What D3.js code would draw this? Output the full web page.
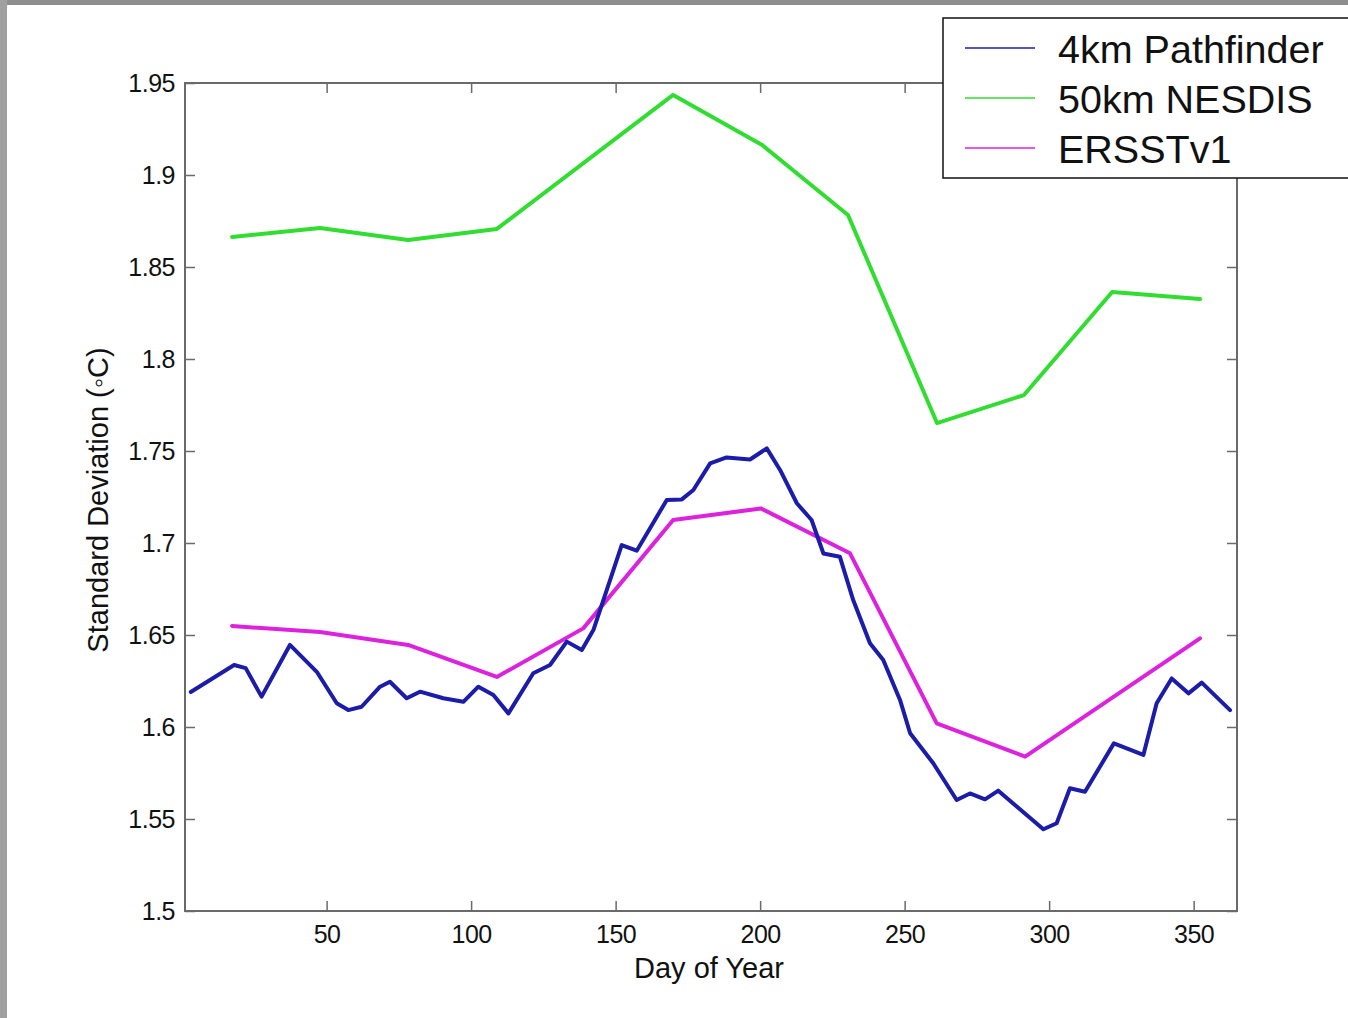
<!DOCTYPE html>
<html>
<head>
<meta charset="utf-8">
<script src="https://cdn.jsdelivr.net/npm/d3@7"></script>
<style>
  html, body { margin: 0; padding: 0; background: #fff; }
  svg { display: block; }
  text { font-family: "Liberation Sans", Arial, Helvetica, sans-serif; fill: #111; }
</style>
</head>
<body>
<div id="chart"></div>
<script>
// ---- data ----
var pathfinderDays = [3, 18, 22, 27.5, 37.3, 46.6, 53.5, 57.5, 62.1, 68.5, 71.9, 77.7, 82.3, 90.4, 97.3,
  102.5, 107.7, 112.9, 121.5, 127.3, 133.1, 138.3, 142.3, 148.1, 152.1, 157.3, 167.7, 172.9, 176.9,
  182.7, 188.4, 196.5, 202.3, 206.9, 212.7, 217.8, 221.9, 227.6, 232.2, 238, 242.6, 248.4, 251.9,
  259.9, 268, 272.6, 277.8, 282.4, 298, 302.6, 307.2, 312.4, 322.4, 332.6, 337.2, 342.4, 348.2, 352.8, 362.6];
var pathfinderValues = [1.619, 1.6337, 1.632, 1.6165, 1.6446, 1.630, 1.6129, 1.6092, 1.611, 1.6219, 1.6246,
  1.6156, 1.6192, 1.6156, 1.6137, 1.6219, 1.6174, 1.6074, 1.6292, 1.6337, 1.6464, 1.6418, 1.6527, 1.680,
  1.6989, 1.6958, 1.7234, 1.7237, 1.7288, 1.7433, 1.7465, 1.7454, 1.7514, 1.7397, 1.7216, 1.7125, 1.6943,
  1.6925, 1.669, 1.6455, 1.6364, 1.6147, 1.5966, 1.5803, 1.5603, 1.5639, 1.5607, 1.5654, 1.5444, 1.5477,
  1.5667, 1.5648, 1.5911, 1.5848, 1.6129, 1.6264, 1.6183, 1.6241, 1.6092];

var nesdisDays = [17.3, 47.7, 78.2, 108.9, 169.9, 200.7, 230.4, 261.2, 291.3, 321.8, 352.2];
var nesdisValues = [1.8663, 1.8712, 1.8647, 1.8707, 1.9435, 1.9163, 1.8783, 1.7652, 1.7804, 1.8364, 1.8326];

var ersstDays = [17.3, 47.7, 78.2, 108.9, 138.8, 169.9, 200.3, 231.1, 261.1, 291.7, 352.2];
var ersstValues = [1.6549, 1.6516, 1.6446, 1.6272, 1.6536, 1.7125, 1.7188, 1.6944, 1.602, 1.5839, 1.6482];

var xTicks = [50, 100, 150, 200, 250, 300, 350];
var yTicks = [1.5, 1.55, 1.6, 1.65, 1.7, 1.75, 1.8, 1.85, 1.9, 1.95];
var yTickLabels = ["1.5", "1.55", "1.6", "1.65", "1.7", "1.75", "1.8", "1.85", "1.9", "1.95"];

var seriesNames = ["4km Pathfinder", "50km NESDIS", "ERSSTv1"];
var seriesColors = ["#1c1caa", "#30dd30", "#dd22dd"];

// ---- layout ----
var W = 1348, H = 1018;
var margin = { top: 83, left: 185 },
    width = 1052,
    height = 828;

var svg = d3.select("#chart")
    .append("svg")
    .attr("width", W)
    .attr("height", H);

// gray slide border (top and left)
svg.append("rect").attr("x", 0).attr("y", 0).attr("width", W).attr("height", 5).attr("fill", "#8e8e8e");
svg.append("rect").attr("x", 0).attr("y", 0).attr("width", 7).attr("height", H).attr("fill", "#a0a0a0");

var g = svg.append("g")
    .attr("transform", "translate(" + margin.left + "," + margin.top + ")");

var x = d3.scaleLinear().domain([1, 365]).range([0, width]);
var y = d3.scaleLinear().domain([1.5, 1.95]).range([height, 0]);

// ---- axes (box with inward ticks on all four sides) ----
var axisColor = "#6a6a6a";

function styleAxis(sel) {
    sel.select(".domain").remove();
    sel.selectAll(".tick line").attr("stroke", axisColor).attr("stroke-width", 1.5);
    sel.selectAll(".tick text")
        .style("font-family", "'Liberation Sans', Arial, sans-serif")
        .style("font-size", "25px")
        .style("letter-spacing", "-0.5px")
        .attr("fill", "#000");
}

g.append("g")
    .attr("transform", "translate(0," + height + ")")
    .call(d3.axisBottom(x).tickValues(xTicks).tickSize(-10).tickPadding(14).tickFormat(d3.format("d")))
    .call(styleAxis);

g.append("g")
    .call(d3.axisTop(x).tickValues(xTicks).tickSize(-10).tickFormat(""))
    .call(styleAxis);

g.append("g")
    .call(d3.axisLeft(y).tickValues(yTicks).tickSize(-10).tickPadding(10)
        .tickFormat(function (d, i) { return yTickLabels[i]; }))
    .call(styleAxis);

g.append("g")
    .attr("transform", "translate(" + width + ",0)")
    .call(d3.axisRight(y).tickValues(yTicks).tickSize(-10).tickFormat(""))
    .call(styleAxis);

// frame
g.append("rect")
    .attr("x", 0).attr("y", 0)
    .attr("width", width).attr("height", height)
    .attr("fill", "none")
    .attr("stroke", axisColor)
    .attr("stroke-width", 2);

// ---- lines ----
var line = d3.line()
    .x(function (d) { return x(d[0]); })
    .y(function (d) { return y(d[1]); });

var series = [
    d3.zip(pathfinderDays, pathfinderValues),
    d3.zip(nesdisDays, nesdisValues),
    d3.zip(ersstDays, ersstValues)
];

// draw green, magenta, then blue on top
[1, 2, 0].forEach(function (i) {
    g.append("path")
        .datum(series[i])
        .attr("d", line)
        .attr("fill", "none")
        .attr("stroke", seriesColors[i])
        .attr("stroke-width", 4)
        .attr("stroke-linejoin", "round")
        .attr("stroke-linecap", "round");
});

// ---- axis labels ----
svg.append("text")
    .attr("x", 709)
    .attr("y", 978)
    .attr("text-anchor", "middle")
    .style("font-size", "29px")
    .text("Day of Year");

svg.append("text")
    .attr("transform", "translate(108,500) rotate(-90)")
    .attr("text-anchor", "middle")
    .style("font-size", "29px")
    .text("Standard Deviation (\u25E6C)");

// ---- legend ----
var legend = svg.append("g");
legend.append("rect")
    .attr("x", 943).attr("y", 18)
    .attr("width", 430).attr("height", 160)
    .attr("fill", "#fff")
    .attr("stroke", "#111")
    .attr("stroke-width", 1.5);

seriesNames.forEach(function (name, i) {
    var by = 63 + i * 50;
    legend.append("line")
        .attr("x1", 965).attr("x2", 1035)
        .attr("y1", by - 15).attr("y2", by - 15)
        .attr("stroke", seriesColors[i])
        .attr("stroke-width", 1.5);
    legend.append("text")
        .attr("x", 1058).attr("y", by)
        .style("font-size", "39.5px")
        .text(name);
});
</script>
</body>
</html>
